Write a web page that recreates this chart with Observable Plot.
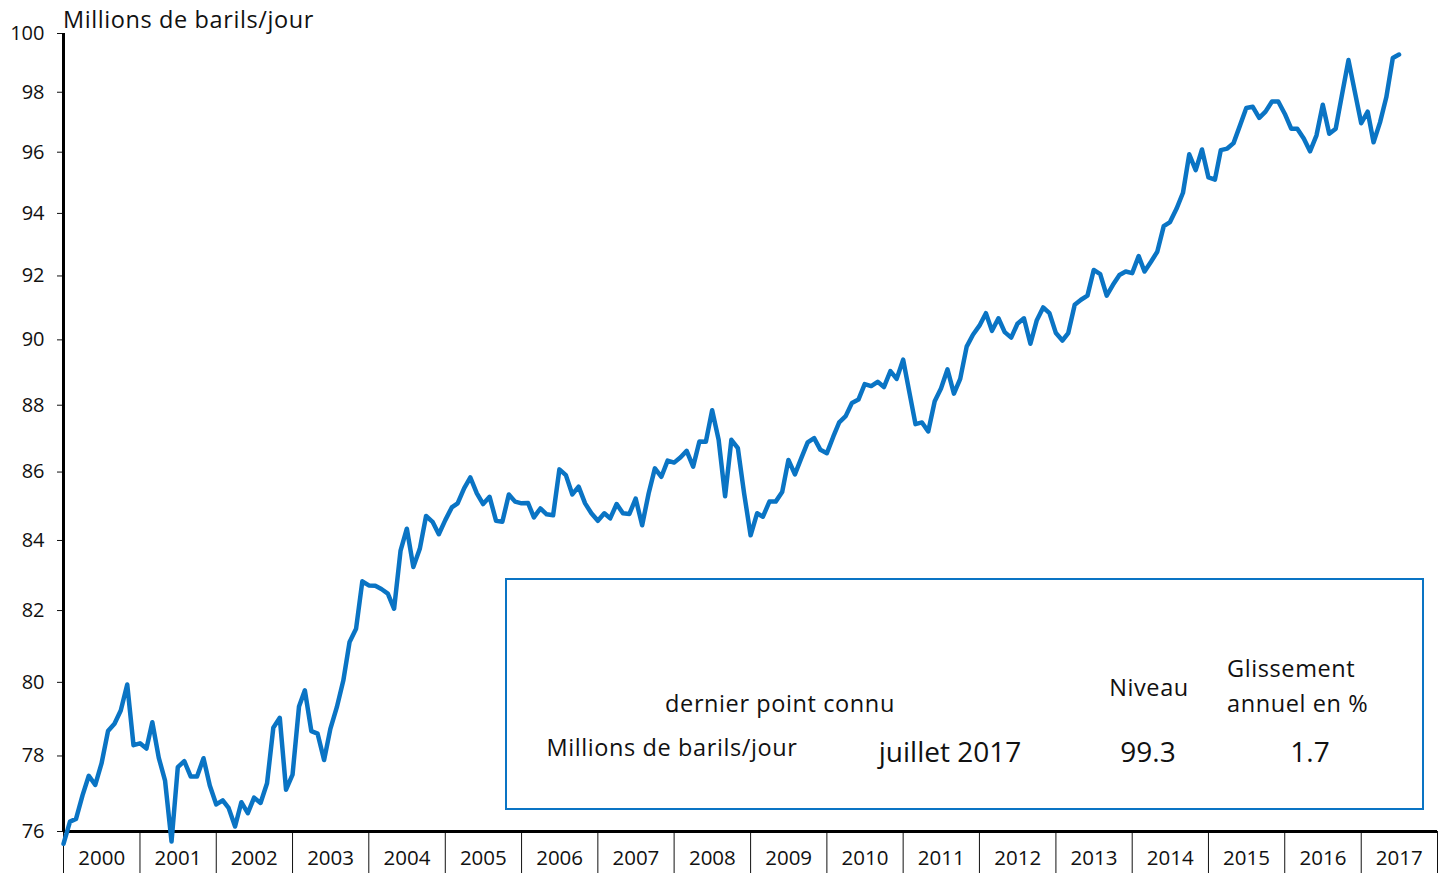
<!DOCTYPE html>
<html>
<head>
<meta charset="utf-8">
<script src="https://cdn.jsdelivr.net/npm/d3@7"></script>
<script src="https://cdn.jsdelivr.net/npm/@observablehq/plot@0.6"></script>
<style>
  body { margin: 0; background: #fff; }
  #wrap { position: relative; width: 1444px; height: 873px; overflow: hidden; font-family: "Open Sans", sans-serif; color: #111; }
  #wrap svg { position: absolute; left: 0; top: 0; }
  .lbl { position: absolute; white-space: nowrap; line-height: 1; }
  #box { position: absolute; left: 505px; top: 578px; width: 915px; height: 228px; border: 2px solid #0a74c4; background: #fff; }
</style>
</head>
<body>
<div id="wrap"></div>
<script>
// ---- data (monthly, Jan 2000 .. Jul 2017), millions of barrels per day ----
const startYear = 2000;
const values = [
  75.68, 76.26, 76.33, 76.95, 77.47, 77.23, 77.80, 78.67, 78.87, 79.23, 79.94, 78.29,
  78.34, 78.20, 78.91, 77.95, 77.34, 75.74, 77.70, 77.86, 77.45, 77.45, 77.94, 77.21,
  76.71, 76.82, 76.62, 76.13, 76.77, 76.48, 76.89, 76.75, 77.27, 78.76, 79.03, 77.10,
  77.50, 79.34, 79.78, 78.67, 78.60, 77.89, 78.73, 79.32, 80.05, 81.12, 81.49, 82.83,
  82.71, 82.70, 82.61, 82.48, 82.05, 83.71, 84.34, 83.24, 83.76, 84.71, 84.54, 84.18,
  84.59, 84.96, 85.08, 85.52, 85.84, 85.37, 85.06, 85.27, 84.57, 84.54, 85.34, 85.13,
  85.08, 85.09, 84.67, 84.93, 84.76, 84.73, 86.08, 85.91, 85.34, 85.57, 85.08, 84.79,
  84.57, 84.79, 84.64, 85.06, 84.79, 84.77, 85.22, 84.44, 85.37, 86.11, 85.86, 86.34,
  86.28, 86.44, 86.63, 86.16, 86.91, 86.90, 87.85, 86.96, 85.29, 86.96, 86.71, 85.37,
  84.15, 84.79, 84.69, 85.13, 85.13, 85.41, 86.36, 85.93, 86.42, 86.88, 87.01, 86.66,
  86.56, 87.06, 87.48, 87.67, 88.07, 88.17, 88.64, 88.58, 88.71, 88.55, 89.04, 88.80,
  89.39, 88.35, 87.43, 87.48, 87.21, 88.12, 88.51, 89.09, 88.35, 88.80, 89.79, 90.16,
  90.44, 90.83, 90.28, 90.67, 90.24, 90.07, 90.50, 90.67, 89.88, 90.60, 91.01, 90.83,
  90.21, 89.98, 90.21, 91.09, 91.25, 91.38, 92.19, 92.06, 91.38, 91.72, 92.03, 92.14,
  92.09, 92.63, 92.14, 92.45, 92.77, 93.59, 93.72, 94.15, 94.67, 95.93, 95.41, 96.09,
  95.17, 95.10, 96.07, 96.12, 96.30, 96.89, 97.47, 97.51, 97.14, 97.35, 97.69, 97.69,
  97.28, 96.78, 96.78, 96.45, 96.03, 96.56, 97.58, 96.61, 96.78, 97.92, 99.09, 98.03,
  96.96, 97.35, 96.33, 96.99, 97.83, 99.16, 99.28
];
const years = [2000, 2001, 2002, 2003, 2004, 2005, 2006, 2007, 2008, 2009,
               2010, 2011, 2012, 2013, 2014, 2015, 2016, 2017];
const yTicks = [76, 78, 80, 82, 84, 86, 88, 90, 92, 94, 96, 98, 100];
const title = "Millions de barils/jour";
const boxHeader = "dernier point connu";
const boxUnit = "Millions de barils/jour";
const lastPeriod = "juillet 2017";
const levelHeader = "Niveau";
const levelValue = "99.3";
const growthHeader = ["Glissement", "annuel en %"];
const growthValue = "1.7";

// ---- build ----
const blue = "#0a74c4";
const data = values.map((v, i) => ({date: new Date(Date.UTC(startYear, i, 1)), value: v}));
const yearStarts = [...years, years[years.length - 1] + 1].map(y => new Date(Date.UTC(y, 0, 1)));
const yearMids = years.map(y => ({date: new Date(Date.UTC(y, 6, 2)), label: String(y)}));
const yLabels = yTicks.map(v => ({value: v, label: String(v)}));

const chart = Plot.plot({
  width: 1444,
  height: 873,
  marginLeft: 63,
  marginRight: 7,
  marginTop: 33,
  marginBottom: 42,
  style: {fontFamily: '"Open Sans", sans-serif', fontSize: "20px", color: "#111", background: "transparent", overflow: "visible"},
  x: {type: "utc", domain: [yearStarts[0], yearStarts[yearStarts.length - 1]], ticks: yearStarts, tickSize: 42, tickFormat: () => "", label: null},
  y: {type: "log", domain: [76, 100], ticks: yTicks, tickSize: 6, tickFormat: () => "", label: null},
  marks: [
    Plot.text(yearMids, {x: "date", text: "label", frameAnchor: "bottom", dy: 33, fontSize: 20.5, fill: "#111"}),
    Plot.text(yLabels, {y: "value", text: "label", frameAnchor: "left", dx: -19, textAnchor: "end", fontSize: 20, fill: "#111"}),
    Plot.ruleY([76], {stroke: "#000", strokeWidth: 3}),
    Plot.ruleX([yearStarts[0]], {stroke: "#000", strokeWidth: 3}),
    Plot.line(data, {x: "date", y: "value", stroke: blue, strokeWidth: 4.5, strokeLinejoin: "round", strokeLinecap: "round"})
  ]
});

// extend the library's axis ticks so they cross the axis lines
const svg = d3.select(chart.tagName.toLowerCase() === "svg" ? chart : chart.querySelector("svg"));
svg.selectAll('[aria-label="x-axis"] .tick line').attr("y1", -12).attr("stroke", "#444").attr("stroke-width", 1.5);
svg.selectAll('[aria-label="y-axis"] .tick line').attr("x1", 6).attr("stroke-width", 1.5);

const wrap = document.getElementById("wrap");
wrap.appendChild(chart);

// overlay texts (title and summary box)
function place(parent, text, x, baseline, size, anchor, spacing) {
  const el = document.createElement("div");
  el.className = "lbl";
  el.textContent = text;
  el.style.fontSize = size + "px";
  el.style.letterSpacing = (spacing || 0) + "px";
  el.style.top = (baseline - 0.888 * size) + "px";
  el.style.left = x + "px";
  if (anchor === "middle") el.style.transform = "translateX(-50%)";
  parent.appendChild(el);
  return el;
}
place(wrap, title, 63, 29, 23.5, "start", 0.6);

const box = document.createElement("div");
box.id = "box";
wrap.appendChild(box);
place(wrap, boxHeader, 780, 713, 23.5, "middle", 0.6);
place(wrap, boxUnit, 672, 757, 23.5, "middle", 0.6);
place(wrap, lastPeriod, 950, 762, 28, "middle", 0);
place(wrap, levelHeader, 1149, 697, 23.5, "middle", 0.6);
place(wrap, levelValue, 1148, 762, 28, "middle", 0);
place(wrap, growthHeader[0], 1227, 678, 23.5, "start", 0.6);
place(wrap, growthHeader[1], 1227, 713, 23.5, "start", 0.6);
place(wrap, growthValue, 1310, 762, 28, "middle", 0);
</script>
</body>
</html>
